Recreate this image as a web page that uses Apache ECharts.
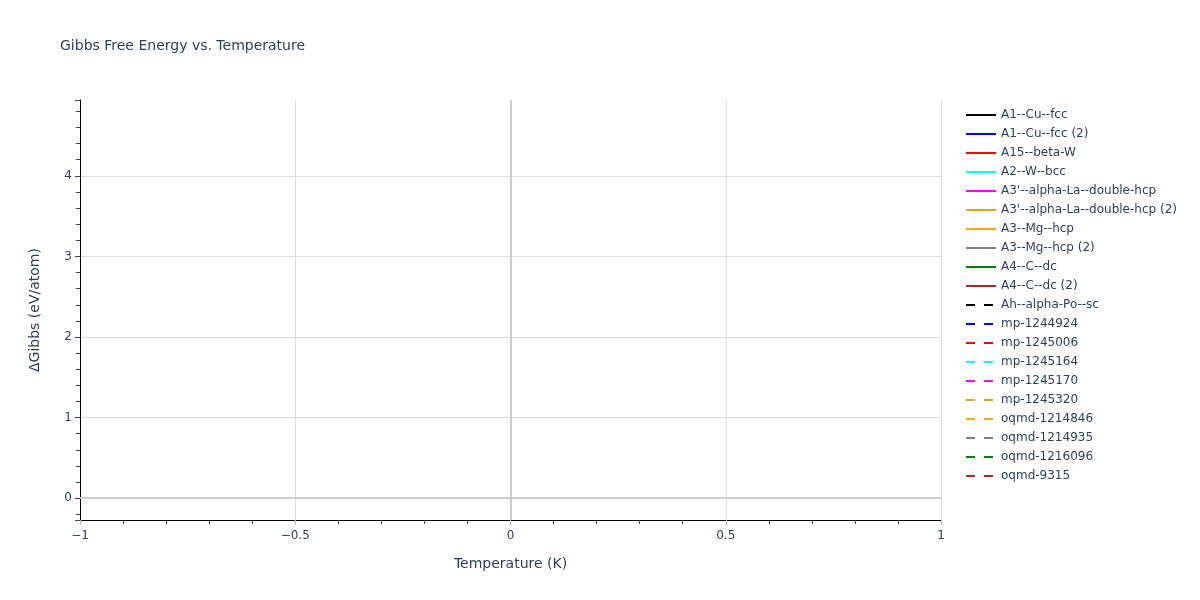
<!DOCTYPE html>
<html>
<head>
<meta charset="utf-8">
<script src="https://cdn.jsdelivr.net/npm/echarts@6/dist/echarts.min.js"></script>
<style>html,body{margin:0;padding:0;background:#fff}#c{width:1200px;height:600px}</style>
</head>
<body>
<div id="c"></div>
<script>
// Series names (all series in the reference contain no plotted points)
const seriesNames = [
  "A1--Cu--fcc", "A1--Cu--fcc (2)", "A15--beta-W", "A2--W--bcc",
  "A3'--alpha-La--double-hcp", "A3'--alpha-La--double-hcp (2)",
  "A3--Mg--hcp", "A3--Mg--hcp (2)", "A4--C--dc", "A4--C--dc (2)",
  "Ah--alpha-Po--sc", "mp-1244924", "mp-1245006", "mp-1245164",
  "mp-1245170", "mp-1245320", "oqmd-1214846", "oqmd-1214935",
  "oqmd-1216096", "oqmd-9315"
];
const seriesColors = [
  "#000000", "#0000ff", "#ff0000", "#00ffff", "#ff00ff", "#daa520",
  "#ffa500", "#808080", "#008000", "#a52a2a",
  "#000000", "#0000ff", "#ff0000", "#00ffff", "#ff00ff", "#daa520",
  "#ffa500", "#808080", "#008000", "#a52a2a"
];
const seriesDashed = [
  false, false, false, false, false, false, false, false, false, false,
  true, true, true, true, true, true, true, true, true, true
];
// Series values: [temperature, dGibbs] pairs — empty in the reference
const seriesValues = seriesNames.map(() => []);
// Axis ranges / ticks
const xRange = [-1, 1];
const xTickStep = 0.5;
const yRange = [-0.27, 4.94];
const zeroLines = [{ xAxis: 0 }, { yAxis: 0 }];

const txt = '#2a3f5f';
const font = '"DejaVu Sans", Verdana, sans-serif';
const minus = v => String(v).replace('-', '\u2212');
const dashPattern = [9, 9];

const series = seriesNames.map((name, i) => {
  const s = {
    name: name,
    type: 'line',
    data: seriesValues[i],
    symbol: 'none',
    showSymbol: false,
    color: seriesColors[i],
    lineStyle: { width: 2, color: seriesColors[i], type: seriesDashed[i] ? dashPattern : 'solid' }
  };
  if (i === 0) {
    s.markLine = {
      silent: true, symbol: 'none', animation: false,
      label: { show: false },
      lineStyle: { color: '#cccccc', width: 2, type: 'solid' },
      data: zeroLines
    };
  }
  return s;
});

const legendData = seriesNames.map((name, i) => ({
  name: name,
  itemStyle: { opacity: 0 },
  lineStyle: { width: 2, color: seriesColors[i], type: seriesDashed[i] ? dashPattern : 'solid' }
}));

const chart = echarts.init(document.getElementById('c'), null, { renderer: 'canvas' });
chart.setOption({
  animation: false,
  backgroundColor: '#ffffff',
  title: {
    text: 'Gibbs Free Energy vs. Temperature',
    left: 55, top: 34,
    textStyle: { color: txt, fontFamily: font, fontSize: 14, fontWeight: 'normal' }
  },
  legend: {
    orient: 'vertical',
    left: 960, top: 104,
    itemWidth: 30, itemHeight: 14, itemGap: 7, itemTextGap: 4,
    itemStyle: { opacity: 0 },
    textStyle: { color: txt, fontFamily: font, fontSize: 12 },
    data: legendData
  },
  grid: { left: 80, right: 259, top: 100, bottom: 80, containLabel: false },
  xAxis: {
    type: 'value',
    min: xRange[0], max: xRange[1], interval: xTickStep,
    name: 'Temperature (K)', nameLocation: 'middle', nameGap: 37,
    nameTextStyle: { color: txt, fontFamily: font, fontSize: 14 },
    axisLine: { show: true, onZero: false, lineStyle: { color: '#000', width: 1 } },
    axisTick: { show: true, length: 5, lineStyle: { color: '#bbbbbb' } },
    minorTick: { show: true, splitNumber: 5, length: 4, lineStyle: { color: '#444' } },
    axisLabel: { color: txt, fontFamily: font, fontSize: 12, margin: 10, formatter: v => minus(v) },
    splitLine: { show: true, lineStyle: { color: '#dddddd', width: 1 } }
  },
  yAxis: {
    type: 'value',
    min: yRange[0], max: yRange[1], splitNumber: 5,
    name: '\u0394Gibbs (eV/atom)', nameLocation: 'middle', nameGap: 38,
    nameTextStyle: { color: txt, fontFamily: font, fontSize: 14 },
    axisLine: { show: true, onZero: false, lineStyle: { color: '#000', width: 1 } },
    axisTick: { show: true, length: 5, lineStyle: { color: '#444' } },
    minorTick: { show: true, splitNumber: 5, length: 4, lineStyle: { color: '#444' } },
    axisLabel: {
      color: txt, fontFamily: font, fontSize: 12, margin: 8,
      showMinLabel: false, showMaxLabel: false,
      formatter: v => (Math.abs(v - Math.round(v)) < 1e-9 ? minus(Math.round(v)) : '')
    },
    splitLine: { show: true, showMinLine: false, showMaxLine: false, lineStyle: { color: '#dddddd', width: 1 } }
  },
  series: series
});
</script>
</body>
</html>
